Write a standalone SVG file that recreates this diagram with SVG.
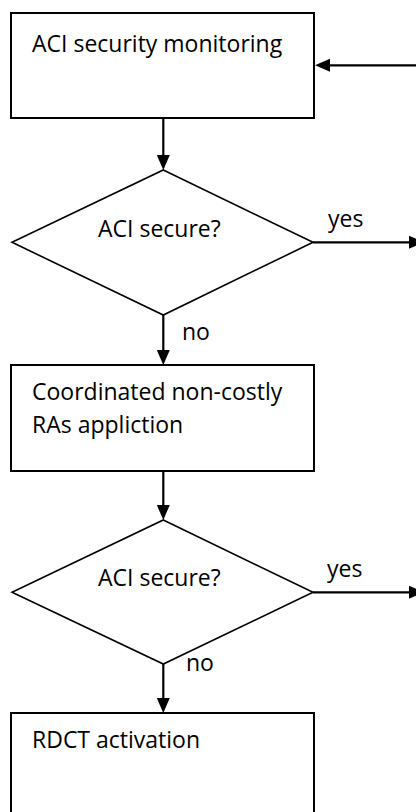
<svg xmlns="http://www.w3.org/2000/svg" width="416" height="812" viewBox="0 0 416 812">
<style>
.box{fill:#fff;stroke:#000;stroke-width:2}
.dia{fill:#fff;stroke:#000;stroke-width:1.6}
.t{font-family:"Open Sans","Liberation Sans",sans-serif;font-size:23px;fill:#000}
.c{stroke:#000;stroke-width:2.2;fill:none}
</style>
<defs>
<marker id="ah" markerUnits="userSpaceOnUse" markerWidth="16" markerHeight="14" refX="5" refY="7" orient="auto" overflow="visible">
<path d="M0,0.5 L15,7 L0,13.5 z" fill="#000"/>
</marker>
</defs>
<g id="connectors">
<line class="c" x1="163.3" y1="118" x2="163.3" y2="160" marker-end="url(#ah)"/>
<line class="c" x1="163.3" y1="315" x2="163.3" y2="355" marker-end="url(#ah)"/>
<line class="c" x1="163.3" y1="471" x2="163.3" y2="510" marker-end="url(#ah)"/>
<line class="c" x1="163.3" y1="664" x2="163.3" y2="703" marker-end="url(#ah)"/>
<line class="c" x1="416" y1="65.3" x2="325" y2="65.3" marker-end="url(#ah)"/>
<line class="c" x1="313" y1="242.3" x2="414" y2="242.3" marker-end="url(#ah)"/>
<line class="c" x1="313" y1="592.3" x2="414" y2="592.3" marker-end="url(#ah)"/>
<text class="t" x="328" y="227">yes</text>
<text class="t" x="182" y="339.5">no</text>
<text class="t" x="327" y="577">yes</text>
<text class="t" x="186" y="671">no</text>
</g>
<g id="n1">
<rect class="box" x="11" y="13" width="303" height="105"/>
<text class="t" x="32" y="51.5">ACI security monitoring</text>
</g>
<g id="d1">
<polygon class="dia" points="163.3,170 313,242.3 163.3,315 12,242.3"/>
<text class="t" x="98" y="236.7">ACI secure?</text>
</g>
<g id="n2">
<rect class="box" x="11" y="365" width="303" height="106"/>
<text class="t" x="32" y="400">Coordinated non-costly</text>
<text class="t" x="32" y="433.3">RAs appliction</text>
</g>
<g id="d2">
<polygon class="dia" points="163.3,520 313,592.3 163.3,664 12,592.3"/>
<text class="t" x="98" y="586">ACI secure?</text>
</g>
<g id="n3">
<rect class="box" x="11" y="713" width="303" height="110"/>
<text class="t" x="32" y="748">RDCT activation</text>
</g>
</svg>
